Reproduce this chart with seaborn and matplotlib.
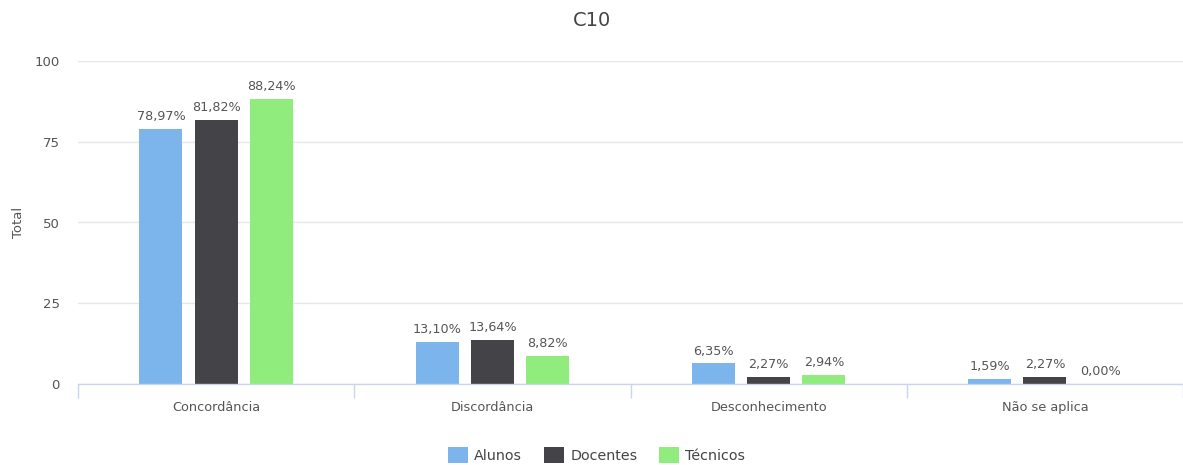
import matplotlib
matplotlib.use("Agg")
import matplotlib.pyplot as plt
import seaborn as sns
import pandas as pd
from matplotlib.patches import Patch

# Survey item C10: share of answers per group
categories = ["Concordância", "Discordância", "Desconhecimento", "Não se aplica"]
groups = ["Alunos", "Docentes", "Técnicos"]
alunos = [78.97, 13.10, 6.35, 1.59]
docentes = [81.82, 13.64, 2.27, 2.27]
tecnicos = [88.24, 8.82, 2.94, 0.00]
y_ticks = [0, 25, 50, 75, 100]

colors = ["#7cb5ec", "#434348", "#90ed7d"]

rows = []
for grp, vals in zip(groups, [alunos, docentes, tecnicos]):
    for cat, v in zip(categories, vals):
        rows.append({"categoria": cat, "grupo": grp, "valor": v})
df = pd.DataFrame(rows)

sns.set_theme(style="white")
plt.rcParams["font.family"] = ["DejaVu Sans"]

fig = plt.figure(figsize=(11.83, 4.65), dpi=100)
ax = fig.add_axes([78 / 1183, 1 - 384 / 465, 1105 / 1183, (384 - 61) / 465])

sns.barplot(data=df, x="categoria", y="valor", hue="grupo", order=categories,
            hue_order=groups, palette=colors, width=0.6, gap=0.225,
            saturation=1, linewidth=0, legend=False, ax=ax)

for container in ax.containers:
    labels = [f"{b.get_height():.2f}%".replace(".", ",") for b in container]
    ax.bar_label(container, labels=labels, padding=4, fontsize=9.2, color="#555555")

ax.set_xlim(-0.5, len(categories) - 0.5)
ax.set_ylim(0, 100)
ax.set_yticks(y_ticks)
ax.set_yticklabels([str(t) for t in y_ticks])
ax.grid(axis="y", color="#e6e6e6", linewidth=1)
ax.set_axisbelow(True)

for side in ["left", "right", "top"]:
    ax.spines[side].set_visible(False)
ax.spines["bottom"].set_color("#ccd6eb")
ax.spines["bottom"].set_linewidth(1)

# category boundaries as minor ticks below the axis
ax.set_xticks([i - 0.5 for i in range(len(categories) + 1)], minor=True)
ax.tick_params(axis="x", which="minor", length=10, width=1, color="#ccd6eb", bottom=True)
ax.tick_params(axis="x", which="major", length=0, pad=12, labelsize=9.3, labelcolor="#555555")
ax.tick_params(axis="y", length=0, pad=13, labelsize=9.5, labelcolor="#555555")

ax.set_xlabel("")
ax.set_ylabel("")
fig.text(18 / 1183, 1 - 222 / 465, "Total", rotation=90, ha="center", va="center",
         fontsize=9.5, color="#555555")

fig.suptitle("C10", x=0.5, y=1 - 20 / 465, va="center", fontsize=14, color="#444444")

handles = [Patch(facecolor=c, edgecolor="none", label=g) for c, g in zip(colors, groups)]
fig.legend(handles=handles, loc="center", bbox_to_anchor=(0.5 + 5 / 1183, 1 - 455 / 465), ncol=3,
           frameon=False, fontsize=10.3, labelcolor="#444444", handlelength=1.4,
           handleheight=1.4, handletextpad=0.45, columnspacing=1.5)

fig.savefig("out.png", dpi=100)
